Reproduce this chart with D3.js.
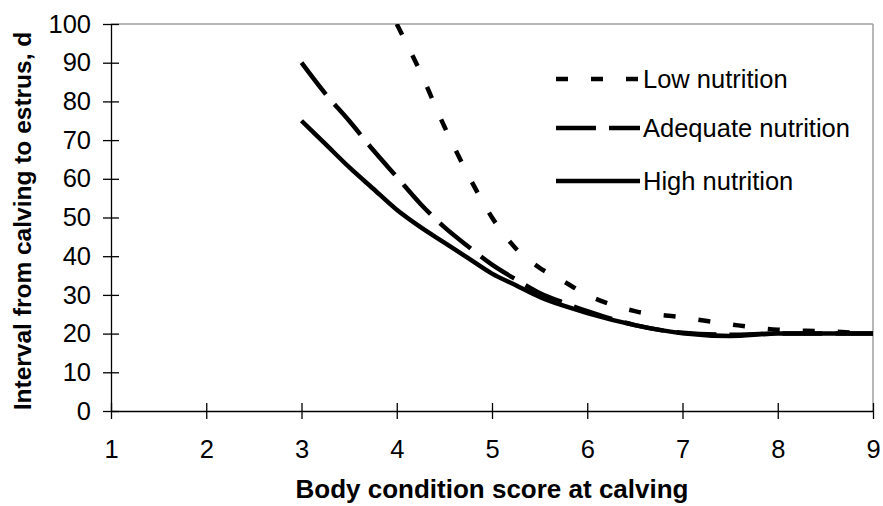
<!DOCTYPE html>
<html>
<head>
<meta charset="utf-8">
<script src="https://cdn.jsdelivr.net/npm/d3@7"></script>
<style>
body { margin: 0; background: #fff; }
text { font-family: "Liberation Sans", Arial, sans-serif; fill: #000; }
</style>
</head>
<body>
<script>
// body condition score (x) and interval in days (y)
var bcs_low = [4, 4.25, 4.5, 4.75, 5, 5.25, 5.5, 5.75, 6, 6.5, 7, 7.5, 8, 8.5, 9]
var low_nutrition = [100, 87.5, 73.5, 61, 50, 42, 37, 33.5, 30, 25.8, 24.2, 22.4, 21, 20.6, 20]

var bcs = [3, 3.25, 3.5, 3.75, 4, 4.25, 4.5, 4.75, 5, 5.25, 5.5, 5.75, 6, 6.5, 7, 7.5, 8, 8.5, 9]
var adequate_nutrition = [90, 82, 75, 67.5, 60.5, 53.5, 47.5, 42.5, 37.8, 34, 30.5, 28, 25.8, 22.2, 20.2, 19.7, 20, 20, 20]
var high_nutrition = [75, 69, 63, 57.5, 52, 47.5, 43.5, 39.5, 35.5, 32.5, 29.5, 27.2, 25.3, 22.2, 20.1, 19.4, 20, 20, 20]

var series_names = ['Low nutrition', 'Adequate nutrition', 'High nutrition']
var x_ticks = [1, 2, 3, 4, 5, 6, 7, 8, 9]
var y_ticks = [0, 10, 20, 30, 40, 50, 60, 70, 80, 90, 100]

var W = 883, H = 506
// (window.top is read-only, so plot edges get their own names)
var p_left = 111, p_right = 873, p_top = 24, p_bottom = 411

var svg = d3.select('body').append('svg').attr('width', W).attr('height', H)

var x = d3.scaleLinear().domain([1, 9]).range([p_left, p_right])
var y = d3.scaleLinear().domain([0, 100]).range([p_bottom, p_top])

// grey frame on top and right
svg.append('line').attr('x1', p_left).attr('x2', p_right).attr('y1', p_top).attr('y2', p_top)
  .attr('stroke', '#a0a0a0').attr('stroke-width', 1.5)
svg.append('line').attr('x1', p_right).attr('x2', p_right).attr('y1', p_top).attr('y2', p_bottom)
  .attr('stroke', '#a0a0a0').attr('stroke-width', 1.5)

var fs = 25.5

var gy = svg.append('g').attr('transform', 'translate(' + p_left + ',0)')
  .call(d3.axisLeft(y).tickValues(y_ticks).tickSize(8).tickSizeOuter(0).tickPadding(12))
gy.selectAll('.tick line').attr('x1', 8)
gy.selectAll('text').style('font-size', fs + 'px').attr('font-family', null)

var gx = svg.append('g').attr('transform', 'translate(0,' + p_bottom + ')')
  .call(d3.axisBottom(x).tickValues(x_ticks).tickSize(8).tickSizeOuter(0).tickPadding(21))
gx.selectAll('.tick line').attr('y1', -8)
gx.selectAll('text').style('font-size', fs + 'px').attr('font-family', null)

svg.selectAll('.domain, .tick line').attr('stroke', '#000').attr('stroke-width', 1.3)

// lines
var line = d3.line().x(function (d) { return x(d[0]) }).y(function (d) { return y(d[1]) })
  .curve(d3.curveMonotoneX)

var series = [
  { name: series_names[0], pts: d3.zip(bcs_low, low_nutrition), dash: '12,23' },
  { name: series_names[1], pts: d3.zip(bcs, adequate_nutrition), dash: '40,13' },
  { name: series_names[2], pts: d3.zip(bcs, high_nutrition), dash: null }
]

svg.append('clipPath').attr('id', 'plot').append('rect')
  .attr('x', p_left).attr('y', p_top).attr('width', p_right - p_left).attr('height', p_bottom - p_top)

svg.append('g').attr('clip-path', 'url(#plot)').selectAll('path.s').data(series).enter()
  .append('path').attr('class', 's')
  .attr('d', function (d) { return line(d.pts) })
  .attr('fill', 'none').attr('stroke', '#000').attr('stroke-width', 4.5)
  .attr('stroke-dasharray', function (d) { return d.dash })

// legend
var leg_y = [79, 128, 181]
var lg = svg.append('g').selectAll('g').data(series).enter().append('g')
  .attr('transform', function (d, i) { return 'translate(0,' + leg_y[i] + ')' })
lg.append('line').attr('x1', 556).attr('x2', 640).attr('y1', 0).attr('y2', 0)
  .attr('stroke', '#000').attr('stroke-width', 4.5)
  .attr('stroke-dasharray', function (d) { return d.dash })
lg.append('text').attr('x', 643).attr('y', 9).style('font-size', fs + 'px')
  .text(function (d) { return d.name })

// axis titles
svg.append('text').attr('x', 492).attr('y', 498).attr('text-anchor', 'middle')
  .style('font-size', '26px').style('font-weight', 'bold')
  .text('Body condition score at calving')
svg.append('text').attr('transform', 'translate(31,221) rotate(-90)').attr('text-anchor', 'middle')
  .style('font-size', '24.5px').style('font-weight', 'bold')
  .text('Interval from calving to estrus, d')
</script>
</body>
</html>
